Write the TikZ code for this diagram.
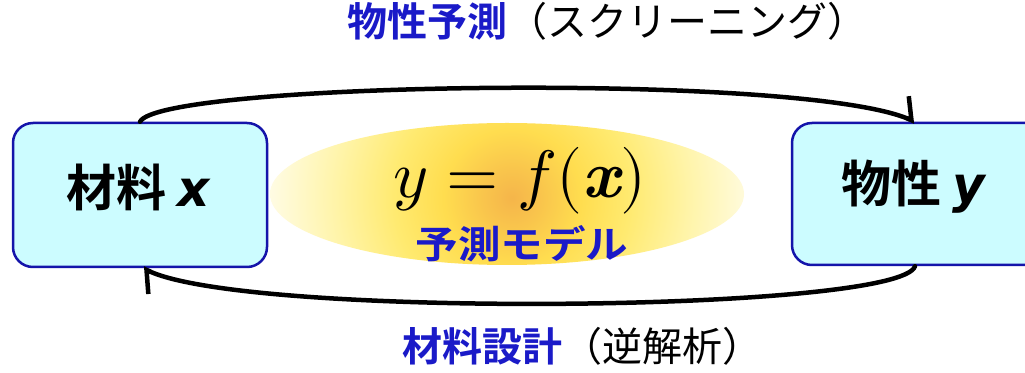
\documentclass[tikz,border=0pt]{standalone}
\usepackage{fontspec}
\usepackage{unicode-math}
\setmathfont{Latin Modern Math}
\newfontfamily\jp{Noto Sans CJK JP}[BoldFont={Noto Sans CJK JP Bold}]
\newfontfamily\dv{DejaVu Sans}
\usetikzlibrary{arrows.meta,shapes.geometric}
\definecolor{boxfill}{HTML}{CCFCFF}
\definecolor{boxdraw}{HTML}{1414AA}
\definecolor{tblue}{HTML}{1A1AC8}
\definecolor{gc0}{HTML}{F5B54A}
\definecolor{gc1}{HTML}{F9C54C}
\definecolor{gc2}{HTML}{FFDD4F}
\definecolor{gc3}{HTML}{FFEA70}
\definecolor{gc4}{HTML}{FFF4A8}
\definecolor{gc5}{HTML}{FFFCE6}
\pgfdeclareradialshading{glow}{\pgfpoint{0bp}{0bp}}{color(0bp)=(gc0); color(3bp)=(gc1); color(7bp)=(gc2); color(12bp)=(gc3); color(18bp)=(gc4); color(25bp)=(gc5); color(50bp)=(gc5)}
\tikzset{
  box/.style={draw=boxdraw, fill=boxfill, line width=2.5pt, rounded corners=20pt,
    minimum width=254pt, inner sep=0pt},
  boxtxt/.style={font=\jp\bfseries\fontsize{50}{56}\selectfont},
  flow/.style={line width=4.5pt, black, line cap=round},
  tip/.style={-{Straight Barb[left,length=12pt,width=42pt]}},
  title/.style={font=\jp\fontsize{40}{46}\selectfont, inner sep=0pt}
}
\begin{document}
\begin{tikzpicture}[x=1pt,y=1pt]
\useasboundingbox (0,0) rectangle (1025,372);
\clip (0,0) rectangle (1025,372);
\fill[white] (0,0) rectangle (1025,372);
\node[ellipse, minimum width=474pt, minimum height=142pt, inner sep=0pt] (model) at (507,178) {};
\begin{scope}
  \clip (model.center) ellipse [x radius=237, y radius=71];
  \shade[shading=glow] (512,174) circle [radius=245];
\end{scope}
\node[box, minimum height=144pt] (lbox) at (140,177) {};
\node[box, minimum height=142pt] (rbox) at (919,178) {};
\node[boxtxt] (ltxt) at (138,185) {材料 {\dv\bfseries\itshape x}};
\node[boxtxt] (rtxt) at (913,185) {物性 {\dv\bfseries\itshape y}};
\node[anchor=base, inner sep=0pt, font=\fontsize{67}{74}\selectfont] (fx) at (520,174) {$y = f(\text{\bfseries\itshape x})$};
\node[font=\jp\bfseries\fontsize{38}{42}\selectfont, text=tblue, inner sep=0pt] (pm) at (522,128) {\scalebox{1.12}[1]{予測モデル}};
\node[title] (top) at (607,351) {{\bfseries\color{tblue}物性予測}（スクリーニング）};
\node[title] (bot) at (582,26) {{\bfseries\color{tblue}材料設計}（逆解析）};
\draw[flow, tip] (lbox.north) .. controls (160,290) and (800,300) .. ([xshift=-4pt]rbox.north);
\draw[flow, tip] ([xshift=-4pt]rbox.south) .. controls (900,60) and (250,53) .. ([xshift=3pt]lbox.south);
\end{tikzpicture}
\end{document}
